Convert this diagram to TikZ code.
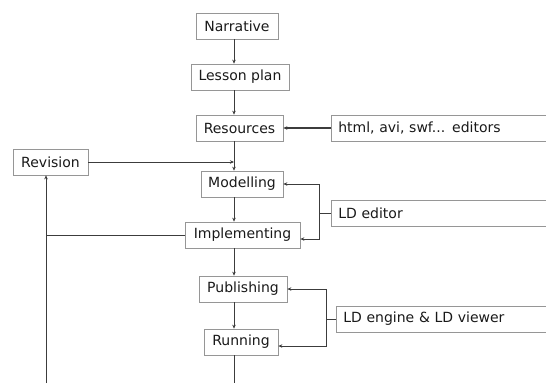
\documentclass[tikz,border=0pt]{standalone}
\usepackage{fontspec}
\setmainfont{DejaVu Sans}
\usetikzlibrary{arrows.meta, positioning, calc}
\definecolor{BoxG}{RGB}{150,150,150}
\definecolor{LineG}{RGB}{60,60,60}
\definecolor{TxtG}{RGB}{25,25,25}

\begin{document}
\begin{tikzpicture}[x=1pt, y=-1pt,
  stage/.style={draw=BoxG, line width=0.7pt, minimum height=26pt,
                inner xsep=4pt, inner ysep=0pt, text=TxtG,
                font=\fontsize{14}{16}\selectfont},
  tool/.style={stage, anchor=west, text width=215pt, align=left, inner xsep=7pt},
  flow/.style={draw=LineG, line width=0.7pt, -{Stealth[length=4pt,width=3.5pt]}},
  link/.style={draw=LineG, line width=0.7pt}
]
\useasboundingbox (0,0) rectangle (546,383);
\clip (0,0) rectangle (546,383);

% Stages of the design process
\node[stage, minimum width=82pt]  (narr)   at (237,26)  {Narrative};
\node[stage, minimum width=98pt]  (lesson) at (240,77)  {Lesson plan};
\node[stage, minimum width=87pt]  (res)    at (239.5,128) {Resources};
\node[stage, minimum width=82pt]  (model)  at (242,184) {Modelling};
\node[stage, minimum width=115pt] (impl)   at (242.5,235) {Implementing};
\node[stage, minimum width=88pt]  (pub)    at (243,289) {Publishing};
\node[stage, minimum width=74pt]  (run)    at (241,342) {Running};
\node[stage, minimum width=75pt]  (rev)    at (50.5,162) {Revision};

% Tools on the right
\node[tool] (html)   at (331,128) {html, avi, swf... editors};
\node[tool] (ldedit) at (331,213) {LD editor};
\node[tool] (ldeng)  at (336,319) {LD engine \& LD viewer};

% Main flow
\coordinate (spine) at (234,0);
\foreach \a/\b in {narr/lesson, lesson/res, res/model, model/impl, impl/pub, pub/run}
  \draw[flow] (\a.south -| spine) -- (\b.north -| spine);
\coordinate (out) at (234,383);
\draw[link] (run.south -| spine) -- (out);

% Revision loop
\coordinate (back) at (46,383);
\draw[flow, line width=0.9pt] (back) -- (rev.south -| back);
\draw[link, line width=0.9pt] (impl.west) -- (impl.west -| back);
\draw[flow] (rev.east) -- (rev.east -| spine);

% Tool connectors
\draw[flow, line width=1.4pt] (html.west) -- (res.east);
\coordinate (brk1) at (319,213);
\draw[link] (ldedit.west) -- (brk1);
\draw[flow] (brk1) |- (model.east);
\draw[flow] (brk1) |- ([yshift=-4pt]impl.east);
\coordinate (brk2) at (326,319);
\draw[link] (ldeng.west) -- (brk2);
\draw[flow, line width=0.9pt] (brk2) |- (pub.east);
\draw[flow, line width=0.9pt] (brk2) |- ([yshift=-4pt]run.east);
\end{tikzpicture}
\end{document}
